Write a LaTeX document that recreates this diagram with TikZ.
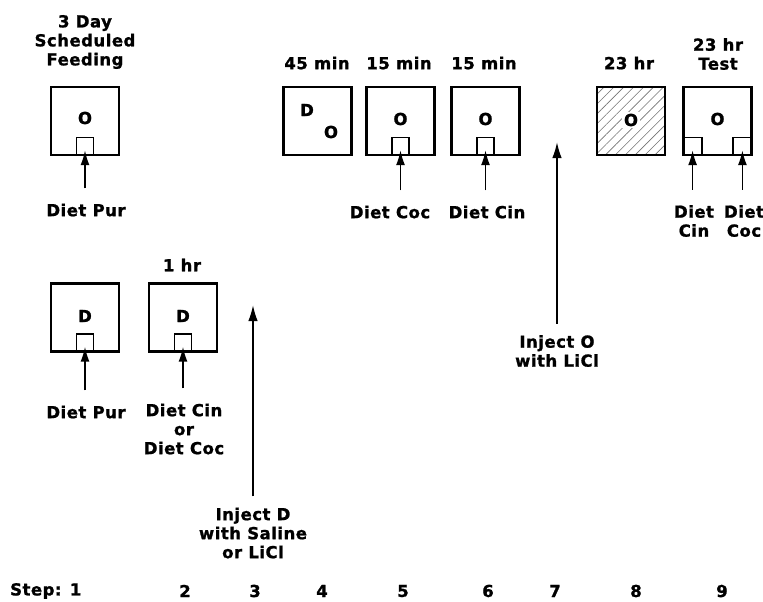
\documentclass[tikz,border=0pt]{standalone}
\usepackage{fontspec}
\setmainfont{DejaVu Sans}[LetterSpace=3, BoldFeatures={FakeBold=1.2}]
\usepackage{tikz}
\usetikzlibrary{arrows.meta,patterns.meta}

\begin{document}
\begin{tikzpicture}[x=1pt, y=-1pt,
    every node/.style={inner sep=0pt, font=\fontsize{16.5}{19}\selectfont\bfseries, align=center},
    cage/.style={draw, line width=2.4pt, minimum size=68pt},
    cup/.style={draw, line width=1.6pt, minimum width=17pt, minimum height=18pt},
    feed/.style={-{Latex[length=15pt,width=9pt]}, line width=1.6pt, shorten <=15pt, shorten >=-6pt},
    inject/.style={-{Latex[length=16pt,width=9.5pt]}, line width=1.7pt, shorten <=11pt}]
    \useasboundingbox (0,0) rectangle (763,602);

    % top row: scheduled feeding and test days
    \node[cage] (b1) at (85,121) {};
    \node[cup, anchor=south] (cup1) at (b1.south) {};
    \node (o1) at (85,118) {O};
    \node (t1) at (85,42) {3 Day\\Scheduled\\Feeding};
    \node (pur1) at (86,210) {Diet Pur};
    \draw[feed] (pur1.north -| cup1.south) -- (cup1.south);

    \node[cage] (b4) at (317.5,121) {};
    \node (d4) at (307,110) {D};
    \node (o4) at (331,132) {O};
    \node (t4) at (317,63) {45 min};

    \node[cage] (b5) at (400.5,121) {};
    \node[cup, anchor=south] (cup5) at (b5.south) {};
    \node (o5) at (400.5,119) {O};
    \node (t5) at (399,63) {15 min};
    \node (coc5) at (390,212) {Diet Coc};
    \draw[feed] (coc5.north -| cup5.south) -- (cup5.south);

    \node[cage] (b6) at (485.5,121) {};
    \node[cup, anchor=south] (cup6) at (b6.south) {};
    \node (o6) at (485.5,119) {O};
    \node (t6) at (484,63) {15 min};
    \node (cin6) at (487,212) {Diet Cin};
    \draw[feed] (cin6.north -| cup6.south) -- (cup6.south);

    \node[cage, pattern={Lines[angle=45, distance=7pt, line width=0.6pt]}, pattern color=black!55] (b8) at (631,121) {};
    \node[fill=white, inner sep=1.5pt] (o8) at (631,120) {O};
    \node (t8) at (629,63) {23 hr};

    \node[cage] (b9) at (717.5,121) {};
    \node[cup, anchor=south west, minimum width=19pt] (cup9a) at (b9.south west) {};
    \node[cup, anchor=south east, minimum width=19pt] (cup9b) at (b9.south east) {};
    \node (o9) at (717.5,119) {O};
    \node (t9) at (718,54) {23 hr\\Test};
    \node (cin9) at (694,221) {Diet\\Cin};
    \node (coc9) at (744,221) {Diet\\Coc};
    \draw[feed] (cin9.north -| cup9a.south) -- (cup9a.south);
    \draw[feed] (coc9.north -| cup9b.south) -- (cup9b.south);

    % bottom row: conditioning days
    \node[cage] (c1) at (85,317.5) {};
    \node[cup, anchor=south] (cup10) at (c1.south) {};
    \node (d10) at (85,316) {D};
    \node (pur10) at (86,412) {Diet Pur};
    \draw[feed] (pur10.north -| cup10.south) -- (cup10.south);

    \node[cage] (c2) at (183,317.5) {};
    \node[cup, anchor=south] (cup11) at (c2.south) {};
    \node (d11) at (183,316) {D};
    \node (t11) at (182,265) {1 hr};
    \node (cc11) at (184,429) {Diet Cin\\or\\Diet Coc};
    \draw[feed] (cc11.north -| cup11.south) -- (cup11.south);

    % injections
    \coordinate (tipD) at (253,305);
    \node (injD) at (253,533) {Inject D\\with Saline\\or LiCl};
    \draw[inject] (injD.north) -- (tipD);

    \coordinate (tipO) at (557,142);
    \node (injO) at (557,351) {Inject O\\with LiCl};
    \draw[inject] (injO.north) -- (tipO);

    % steps
    \node[anchor=west] (s1) at (10,591) {Step: 1};
    \foreach \n/\x in {2/185, 3/255, 4/322, 5/403, 6/488, 7/555, 8/636, 9/722}
        \node (s\n) at (\x,591) {\n};
\end{tikzpicture}
\end{document}
